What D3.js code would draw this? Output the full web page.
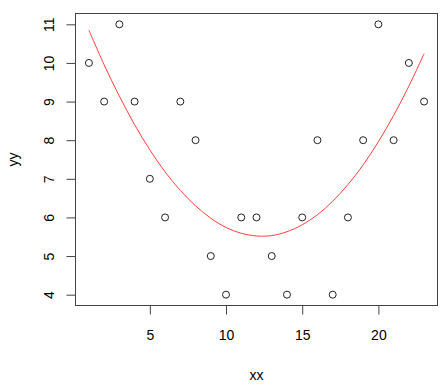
<!DOCTYPE html>
<html>
<head>
<meta charset="utf-8">
<script src="https://cdn.jsdelivr.net/npm/d3@7"></script>
<style>
  body { margin: 0; background: #fff; }
  text { font-family: "Liberation Sans", Arial, sans-serif; font-size: 14px; fill: #000; }
</style>
</head>
<body>
<svg width="446" height="391"></svg>
<script>
// observed points
var xx = [1, 2, 3, 4, 5, 6, 7, 8, 9, 10, 11, 12, 13, 14, 15, 16, 17, 18, 19, 20, 21, 22, 23];
var yy = [10, 9, 11, 9, 7, 6, 9, 8, 5, 4, 6, 6, 5, 4, 6, 8, 4, 6, 8, 11, 8, 10, 9];
// red fitted curve at each xx
var fitY = [10.85, 9.95, 9.14, 8.40, 7.75, 7.18, 6.70, 6.30, 5.98, 5.74, 5.59, 5.52,
            5.53, 5.63, 5.81, 6.07, 6.42, 6.85, 7.36, 7.96, 8.64, 9.40, 10.24];
var xTicks = [5, 10, 15, 20];
var yTicks = [4, 5, 6, 7, 8, 9, 10, 11];

var svg = d3.select('svg');
// plot box edges (note: "top" would clash with window.top)
var boxL = 75.5, boxR = 437.5, boxT = 13.5, boxB = 305.5;

// R-style 4% padding around the data range
var x = d3.scaleLinear().domain([0.12, 23.88]).range([boxL, boxR]);
var y = d3.scaleLinear().domain([3.72, 11.28]).range([boxB, boxT]);

// box
svg.append('rect')
  .attr('x', boxL).attr('y', boxT)
  .attr('width', boxR - boxL).attr('height', boxB - boxT)
  .attr('fill', 'none').attr('stroke', '#444').attr('stroke-width', 1);

// x axis
var xAxis = d3.axisBottom(x).tickValues(xTicks).tickSize(9).tickPadding(16).tickFormat(d3.format('d'));
var gx = svg.append('g').attr('transform', 'translate(0,' + boxB + ')').call(xAxis);
gx.select('.domain').remove();
gx.selectAll('line').attr('stroke', '#444');
gx.selectAll('text').attr('font-size', 14).attr('fill', '#000').attr('font-family', null);

// y axis, labels rotated like R's las=0
var yAxis = d3.axisLeft(y).tickValues(yTicks).tickSize(9).tickFormat(d3.format('d'));
var gy = svg.append('g').attr('transform', 'translate(' + boxL + ',0)').call(yAxis);
gy.select('.domain').remove();
gy.selectAll('line').attr('stroke', '#444');
gy.selectAll('text')
  .attr('x', null).attr('dy', '0.35em')
  .attr('font-size', 14).attr('fill', '#000').attr('font-family', null)
  .attr('text-anchor', 'middle')
  .attr('transform', 'translate(-26,0) rotate(-90)');

// axis titles
svg.append('text').attr('x', (boxL + boxR) / 2).attr('y', 380)
  .attr('text-anchor', 'middle').text('xx');
svg.append('text')
  .attr('transform', 'translate(18,' + (boxT + boxB) / 2 + ') rotate(-90)')
  .attr('text-anchor', 'middle').text('yy');

// fitted curve
var line = d3.line()
  .x(function(d, i) { return x(xx[i]); })
  .y(function(d) { return y(d); })
  .curve(d3.curveCatmullRom);
svg.append('path').datum(fitY)
  .attr('d', line)
  .attr('fill', 'none').attr('stroke', '#ff4040').attr('stroke-width', 1);

// points
svg.selectAll('circle.pt')
  .data(yy)
  .enter()
  .append('circle')
  .attr('class', 'pt')
  .attr('cx', function(d, i) { return x(xx[i]); })
  .attr('cy', function(d) { return y(d); })
  .attr('r', 3.5)
  .attr('fill', 'none')
  .attr('stroke', '#222')
  .attr('stroke-width', 1);
</script>
</body>
</html>
